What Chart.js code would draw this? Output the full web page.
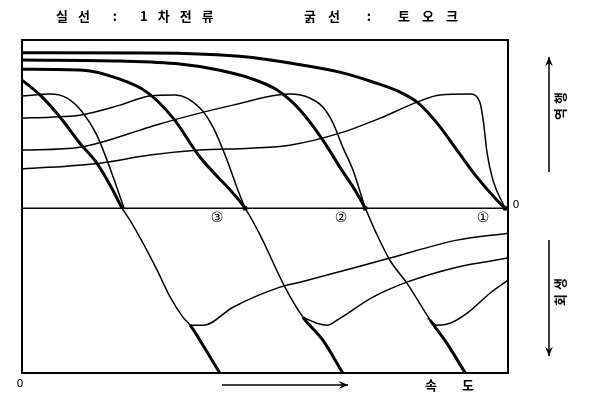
<!DOCTYPE html>
<html lang="ko">
<head>
  <meta charset="UTF-8">
  <title>속도 특성</title>
  <script src="https://cdn.jsdelivr.net/npm/chart.js"></script>
  <style>
    body { margin: 0; background: #fff; }
  </style>
</head>
<body>
  <canvas id="myChart" width="596" height="398"></canvas>
  <script>
    // 토오크 곡선 (굵은 선): 속도 x, 값 y
    const t1X = [0, 26.3, 46.9, 55.1, 65.4, 72.2, 77.8, 81.3, 85.4, 89.5, 93.6, 97.7, 99.4];
    const t1Y = [94.2, 94.1, 91.6, 88.0, 82.5, 76.5, 70.4, 64.3, 51.6, 35.2, 18.8, 4.9, 0];
    const t2X = [0, 20.2, 32.5, 40.7, 46.9, 52.5, 57.2, 61.9, 65.4, 68.9, 70.6, 72.6, 75.7, 79.2, 84.0, 87.4, 91.2];
    const t2Y = [89.8, 89.2, 87.4, 83.7, 78.9, 71.6, 59.5, 41.3, 24.9, 9.1, 0, -13.3, -31.6, -45.5, -68.0, -81.9, -100];
    const t3X = [0, 12.6, 19.5, 25.7, 31.1, 36.6, 43.4, 45.9, 49.0, 54.1, 57.8, 61.9, 66.0];
    const t3Y = [84.3, 83.7, 78.9, 70.4, 54.6, 31.0, 9.1, 0, -16.4, -47.9, -66.1, -80.1, -100];
    const t4X = [0, 3.7, 7.8, 11.9, 15.4, 18.7, 20.6, 22.2, 24.9, 27.8, 30.5, 33.1, 34.6, 36.6, 40.7];
    const t4Y = [77.7, 68.7, 55.3, 39.4, 27.3, 10.9, 0, -7.3, -21.2, -37.6, -54.0, -66.1, -71.0, -80.1, -100];

    // 1차 전류 곡선 (가는 선), 역행 영역
    const c1X = [0, 16.0, 26.3, 36.6, 46.9, 55.1, 65.4, 73.7, 81.3, 86.0, 92.2, 94.2, 94.9, 95.7, 96.9, 99.4];
    const c1Y = [23.7, 27.3, 32.2, 35.2, 36.4, 38.2, 45.5, 54.6, 64.3, 68.6, 69.2, 64.3, 53.4, 33.4, 17.0, 0];
    const c2X = [0, 11.9, 26.3, 31.1, 43.4, 55.1, 59.3, 61.9, 64.0, 66.0, 68.1, 70.6];
    const c2Y = [35.2, 37.0, 49.2, 53.4, 62.5, 69.2, 66.7, 61.3, 51.6, 37.0, 23.1, 0];
    const c3X = [0, 5.8, 11.9, 20.2, 26.3, 31.5, 36.6, 39.3, 42.2, 44.2, 45.9];
    const c3Y = [54.6, 55.2, 56.4, 62.5, 68.0, 68.6, 60.7, 49.2, 29.1, 12.7, 0];
    const c4X = [0, 5.8, 9.3, 12.6, 15.4, 17.5, 19.5, 21.0];
    const c4Y = [68.0, 69.2, 66.7, 57.6, 44.3, 29.1, 12.7, 0];

    // 1차 전류 곡선, 회생 영역
    const r1X = [34.6, 37.4, 43.4, 52.5, 57.2, 75.7, 89.5, 100];
    const r1Y = [-71.0, -71.0, -60.1, -48.5, -44.9, -30.3, -19.4, -15.2];
    const r2X = [58.2, 60.7, 62.8, 64.8, 72.2, 79.2, 89.5, 100];
    const r2Y = [-66.7, -69.8, -71.0, -68.0, -54.0, -44.9, -35.8, -30.3];
    const r3X = [83.5, 85.4, 88.1, 91.6, 96.3, 100];
    const r3Y = [-66.7, -71.0, -69.8, -63.7, -51.6, -43.7];

    // 노치 번호와 토오크 0 이 되는 속도
    const notchLabels = ['③', '②', '①'];
    const notchSpeeds = [45.9, 70.6, 99.4];

    function pts(xs, ys) {
      return xs.map((x, i) => ({ x: x, y: ys[i] }));
    }

    // 0 아래부터 hook (회생 전류와 만나는 곳) 까지는 가늘게, 그 아래는 다시 굵게
    function curve(xs, ys, width, hook) {
      const ds = {
        data: pts(xs, ys),
        borderColor: '#000',
        borderWidth: width,
        pointRadius: 0,
        fill: false,
        cubicInterpolationMode: 'monotone'
      };
      if (hook !== undefined) {
        ds.segment = {
          borderWidth: c => {
            const y = (c.p0.parsed.y + c.p1.parsed.y) / 2;
            return (y < 0 && y > hook) ? 1.5 : width;
          }
        };
      }
      return ds;
    }

    const frame = {
      id: 'frame',
      afterDraw(chart) {
        const ctx = chart.ctx;
        const a = chart.chartArea;
        const xs = chart.scales.x;
        const ys = chart.scales.y;
        const zeroY = ys.getPixelForValue(0);
        ctx.save();
        ctx.strokeStyle = '#000';
        ctx.fillStyle = '#000';
        ctx.lineWidth = 2;
        ctx.strokeRect(a.left, a.top, a.right - a.left, a.bottom - a.top);

        // 노치 표시
        ctx.font = '14px "DejaVu Sans"';
        ctx.textAlign = 'center';
        ctx.textBaseline = 'middle';
        const offs = [-28, -24, -22];
        notchSpeeds.forEach((s, i) => {
          const px = xs.getPixelForValue(s);
          ctx.fillText(notchLabels[i], px + offs[i], zeroY + 10);
          ctx.beginPath();
          ctx.arc(px, zeroY, 2.5, 0, Math.PI * 2);
          ctx.fill();
        });

        // 0 표시
        ctx.font = '11px "DejaVu Sans"';
        ctx.fillText('0', a.right + 8, zeroY - 3);
        ctx.fillText('0', a.left - 2, a.bottom + 11);

        // 제목
        ctx.font = 'bold 13px "Noto Sans CJK KR"';
        ctx.textAlign = 'left';
        ctx.letterSpacing = '10px';
        ctx.fillText('실선 : 1차전류', 56, 16);
        ctx.letterSpacing = '12px';
        ctx.fillText('굵선 : 토오크', 304, 16);
        ctx.letterSpacing = '0px';

        // 화살표
        function arrow(x1, y1, x2, y2) {
          ctx.lineWidth = 1.5;
          ctx.beginPath();
          ctx.moveTo(x1, y1);
          ctx.lineTo(x2, y2);
          ctx.stroke();
          const ang = Math.atan2(y2 - y1, x2 - x1);
          ctx.beginPath();
          ctx.moveTo(x2, y2);
          ctx.lineTo(x2 - 10 * Math.cos(ang - 0.4), y2 - 10 * Math.sin(ang - 0.4));
          ctx.lineTo(x2 - 6 * Math.cos(ang), y2 - 6 * Math.sin(ang));
          ctx.lineTo(x2 - 10 * Math.cos(ang + 0.4), y2 - 10 * Math.sin(ang + 0.4));
          ctx.closePath();
          ctx.fill();
        }
        arrow(549, 172, 549, 57);
        arrow(549, 240, 549, 356);
        arrow(222, 385, 348, 385);

        ctx.font = 'bold 13px "Noto Sans CJK KR"';
        ctx.textAlign = 'center';
        ctx.fillText('속', 431, 385);
        ctx.fillText('도', 468, 385);

        function vtext(t, x, y) {
          ctx.save();
          ctx.translate(x, y);
          ctx.rotate(-Math.PI / 2);
          ctx.letterSpacing = '4px';
          ctx.fillText(t, 0, 0);
          ctx.restore();
        }
        vtext('역행', 560, 104);
        vtext('회생', 560, 290);
        ctx.restore();
      }
    };

    const ctx = document.getElementById('myChart').getContext('2d');
    new Chart(ctx, {
      type: 'line',
      data: {
        datasets: [
          { data: [{ x: 0, y: 0 }, { x: 100, y: 0 }], borderColor: '#000', borderWidth: 1.5, pointRadius: 0 },
          curve(t1X, t1Y, 3),
          curve(t2X, t2Y, 3, -68.0),
          curve(t3X, t3Y, 3, -66.1),
          curve(t4X, t4Y, 3, -71.0),
          curve(c1X, c1Y, 1.5),
          curve(c2X, c2Y, 1.5),
          curve(c3X, c3Y, 1.5),
          curve(c4X, c4Y, 1.5),
          curve(r1X, r1Y, 1.5),
          curve(r2X, r2Y, 1.5),
          curve(r3X, r3Y, 1.5)
        ]
      },
      options: {
        responsive: false,
        animation: false,
        layout: { padding: { left: 22, right: 88, top: 40, bottom: 25 } },
        plugins: { legend: { display: false }, tooltip: { enabled: false } },
        scales: {
          x: { type: 'linear', min: 0, max: 100, display: false },
          y: { type: 'linear', min: -100, max: 102, display: false }
        }
      },
      plugins: [frame]
    });
  </script>
</body>
</html>
